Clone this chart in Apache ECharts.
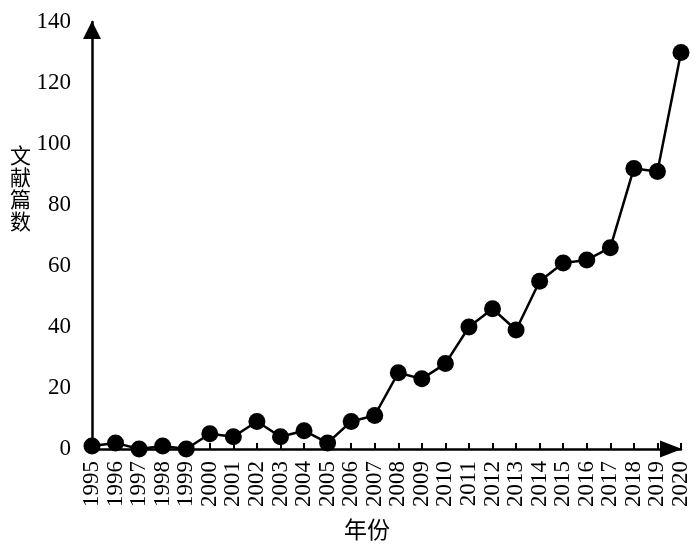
<!DOCTYPE html>
<html>
<head>
<meta charset="utf-8">
<script src="https://cdn.jsdelivr.net/npm/echarts@6/dist/echarts.min.js"></script>
<style>html,body{margin:0;padding:0;background:#fff}#main{width:700px;height:554px}</style>
</head>
<body>
<div id="main"></div>
<script>
var years = ["1995","1996","1997","1998","1999","2000","2001","2002","2003","2004","2005","2006","2007",
    "2008","2009","2010","2011","2012","2013","2014","2015","2016","2017","2018","2019","2020"]
var counts = [1, 2, 0, 1, 0, 5, 4, 9, 4, 6, 2, 9, 11, 25, 23, 28, 40, 46, 39, 55, 61, 62, 66, 92, 91, 130]
var yName = "文献篇数", xName = "年份"

var serif = "Liberation Serif, Times New Roman, Noto Sans CJK SC, serif"
var chart = echarts.init(document.getElementById("main"))
chart.setOption({
    animation: false,
    grid: {left: 92, right: 19, top: 22, bottom: 105},
    xAxis: {type: "category", data: years, boundaryGap: false,
        axisLine: {lineStyle: {color: "#000", width: 2.5}, symbol: ["none", "triangle"], symbolSize: [17, 22], symbolOffset: [0, -10]},
        axisTick: {inside: true, length: 6, lineStyle: {color: "#000", width: 2}, interval: 0},
        axisLabel: {rotate: 90, interval: 0, color: "#000", fontFamily: serif, fontSize: 23, margin: 12}},
    yAxis: {type: "value", min: 0, max: 140, interval: 20, splitLine: {show: false},
        axisLine: {show: true, lineStyle: {color: "#000", width: 2.5}, symbol: ["none", "triangle"], symbolSize: [18, 18], symbolOffset: [0, -8]},
        axisTick: {show: false},
        axisLabel: {color: "#000", fontFamily: serif, fontSize: 23, margin: 21}},
    graphic: [
        {type: "text", left: 10, top: 146, style: {text: yName.split("").join("\n"), font: "21px " + serif, lineHeight: 22, fill: "#000"}},
        {type: "text", left: 344, top: 520, style: {text: xName, font: "23px " + serif, fill: "#000"}},
    ],
    series: [{type: "line", data: counts, symbol: "circle", symbolSize: 17,
        lineStyle: {color: "#000", width: 2.5}, itemStyle: {color: "#000"}}],
})
</script>
</body>
</html>
